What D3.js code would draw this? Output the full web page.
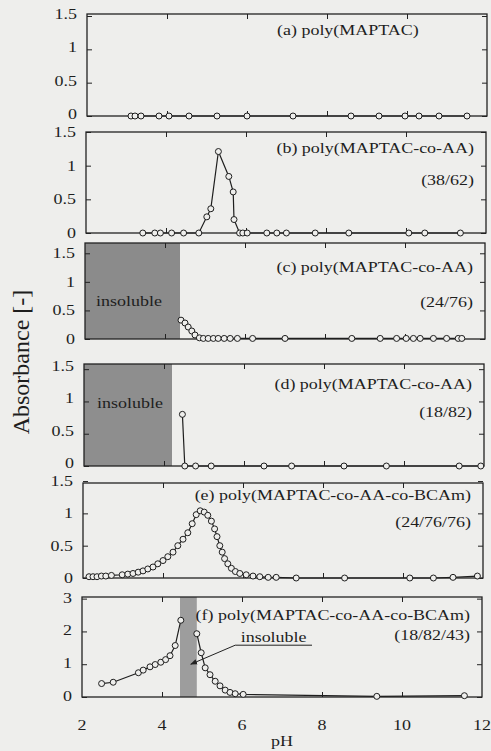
<!DOCTYPE html>
<html>
<head>
<meta charset="utf-8">
<style>
  body { margin: 0; background: #eeeeec; }
  svg { display: block; }
  text { font-family: "Liberation Serif", "Times New Roman", serif; fill: #1e1e1e; }
</style>
</head>
<body>
<svg width="491" height="751"></svg>
<script src="https://d3js.org/d3.v7.min.js"></script>
<script>

// ---- data ----
var phA  = [3.1, 3.2, 3.35, 3.8, 4.05, 4.55, 5.25, 6.0, 7.15, 8.6, 9.3, 9.95, 10.3, 10.8, 11.5];
var absA = [0, 0, 0, 0, 0, 0, 0, 0, 0, 0, 0, 0, 0, 0, 0];

var phB  = [3.42, 3.72, 3.86, 4.14, 4.44, 4.82, 5.02, 5.12, 5.31, 5.57, 5.68, 5.7, 5.84, 5.92, 6.03, 6.52, 6.77, 7.01, 7.73, 8.57, 10.07, 10.47, 11.36];
var absB = [0, 0, 0, 0, 0, 0, 0.24, 0.36, 1.21, 0.84, 0.61, 0.2, 0, 0, 0, 0, 0, 0, 0, 0, 0, 0, 0];

var phC  = [4.4, 4.5, 4.58, 4.67, 4.75, 4.86, 4.96, 5.08, 5.21, 5.33, 5.48, 5.63, 5.81, 6.19, 7.0, 8.67, 9.38, 9.79, 10.03, 10.21, 10.38, 10.71, 11.04, 11.33, 11.42];
var absC = [0.33, 0.28, 0.21, 0.14, 0.07, 0.02, 0.01, 0.01, 0.01, 0.01, 0.01, 0.01, 0.01, 0.01, 0.01, 0.01, 0.01, 0.01, 0.01, 0.01, 0.01, 0.01, 0.01, 0.01, 0.01];

var phD  = [4.46, 4.52, 4.79, 5.18, 6.5, 7.19, 8.5, 9.56, 11.38, 11.92];
var absD = [0.8, 0, 0, 0, 0, 0, 0, 0, 0, 0];

var phE  = [2.15, 2.25, 2.35, 2.46, 2.57, 2.71, 2.98, 3.12, 3.25, 3.38, 3.5, 3.62, 3.75, 3.87, 4.0, 4.12, 4.25, 4.37, 4.5, 4.62, 4.73, 4.83, 4.93, 5.03, 5.12, 5.21, 5.29, 5.35, 5.42, 5.48, 5.54, 5.62, 5.71, 5.81, 5.92, 6.08, 6.25, 6.42, 6.63, 6.83, 7.33, 8.54, 10.17, 10.76, 11.25, 11.86];
var absE = [0.02, 0.02, 0.02, 0.03, 0.03, 0.04, 0.05, 0.06, 0.07, 0.09, 0.11, 0.14, 0.17, 0.22, 0.27, 0.33, 0.4, 0.5, 0.6, 0.7, 0.84, 0.98, 1.04, 1.02, 0.97, 0.88, 0.76, 0.64, 0.5, 0.4, 0.3, 0.22, 0.15, 0.1, 0.07, 0.05, 0.03, 0.02, 0.01, 0.01, 0, 0, 0, 0, 0.01, 0.03];

// (f) is broken by the insoluble band
var phF1  = [2.49, 2.78, 3.41, 3.53, 3.7, 3.83, 3.97, 4.09, 4.2, 4.33, 4.47];
var absF1 = [0.41, 0.45, 0.74, 0.82, 0.92, 0.99, 1.06, 1.14, 1.26, 1.57, 2.34];
var phF2  = [4.87, 4.98, 5.08, 5.2, 5.33, 5.45, 5.58, 5.7, 5.83, 6.03, 9.37, 11.56];
var absF2 = [1.93, 1.35, 0.89, 0.68, 0.48, 0.34, 0.21, 0.14, 0.1, 0.08, 0.02, 0.04];

// insoluble pH ranges
var insolC = [2, 4.375];
var insolD = [2, 4.2];
var insolF = [4.45, 4.87];

var xTicks = [2, 4, 6, 8, 10, 12];
var yTicks = [0, 0.5, 1, 1.5];
var yTicksF = [0, 1, 2, 3];

var titles = [
  ["(a) poly(MAPTAC)"],
  ["(b) poly(MAPTAC-co-AA)", "(38/62)"],
  ["(c) poly(MAPTAC-co-AA)", "(24/76)"],
  ["(d) poly(MAPTAC-co-AA)", "(18/82)"],
  ["(e) poly(MAPTAC-co-AA-co-BCAm)", "(24/76/76)"],
  ["(f) poly(MAPTAC-co-AA-co-BCAm)", "(18/82/43)"]
];

// ---- layout (the scan is slightly sheared, so each panel has its own left edge) ----
var svg = d3.select("svg"),
    W = 400,
    SX = 1.16,      // the scanned glyphs are wider than they are tall
    FS = 15.5,
    bg = "#eeeeec";

var panels = [
  {top: 14,  bottom: 116, left: 87, ymax: 1.53, ticks: yTicks,  t1: 21, t2: 0,  tx: 190, anchor: "start", ldy: -2},
  {top: 132, bottom: 233, left: 86, ymax: 1.5,  ticks: yTicks,  t1: 21, t2: 53, ldy: 0},
  {top: 243, bottom: 339, left: 85, ymax: 1.68, ticks: yTicks,  t1: 29, t2: 64, ldy: 0},
  {top: 364, bottom: 466, left: 84, ymax: 1.58, ticks: yTicks,  t1: 25, t2: 53, ldy: -3},
  {top: 483, bottom: 578, left: 83, ymax: 1.47, ticks: yTicks,  t1: 17, t2: 44, ldy: 0},
  {top: 597, bottom: 697, left: 82, ymax: 3.05, ticks: yTicksF, t1: 23, t2: 43, ldy: -1}
];
var series = [
  [[phA, absA]], [[phB, absB]], [[phC, absC]], [[phD, absD]], [[phE, absE]],
  [[phF1, absF1], [phF2, absF2]]
];
var shades = [null, null, insolC, insolD, null, insolF];
var shadeColor = [null, null, "#8b8b8b", "#8e8e8e", null, "#9d9d9d"];

// text helper: stretch horizontally like the scan
function label(sel, x, y, s, anchor, size) {
  return sel.append("text")
      .attr("transform", "translate(" + x + "," + y + ") scale(" + SX + ",1)")
      .attr("text-anchor", anchor || "start")
      .attr("font-size", size || FS)
      .text(s);
}

// arrow head
svg.append("defs").append("marker")
    .attr("id", "arrow")
    .attr("viewBox", "0 0 10 10")
    .attr("refX", 9).attr("refY", 5)
    .attr("markerWidth", 7).attr("markerHeight", 7)
    .attr("orient", "auto")
  .append("path")
    .attr("d", "M0,1 L10,5 L0,9 z")
    .attr("fill", "#222");

panels.forEach(function(p, i) {
  var h = p.bottom - p.top;
  var g = svg.append("g").attr("transform", "translate(" + p.left + "," + p.top + ")");
  var x = d3.scaleLinear().domain([2, 12]).range([0, W]);
  var y = d3.scaleLinear().domain([0, p.ymax]).range([h, 0]);

  // insoluble region
  if (shades[i]) {
    g.append("rect")
        .attr("x", x(shades[i][0]))
        .attr("y", 0)
        .attr("width", x(shades[i][1]) - x(shades[i][0]))
        .attr("height", h)
        .attr("fill", shadeColor[i]);
  }

  // inward ticks on all four sides
  var inner = [4, 6, 8, 10];
  g.append("g").attr("transform", "translate(0," + h + ")")
      .call(d3.axisBottom(x).tickValues(inner).tickSize(-5).tickFormat(""));
  g.append("g")
      .call(d3.axisTop(x).tickValues(inner).tickSize(-5).tickFormat(""));
  g.append("g")
      .call(d3.axisLeft(y).tickValues(p.ticks).tickSize(-5).tickFormat(""));
  g.append("g").attr("transform", "translate(" + W + ",0)")
      .call(d3.axisRight(y).tickValues(p.ticks).tickSize(-5).tickFormat(""));
  g.selectAll(".domain").remove();
  g.selectAll(".tick line").attr("stroke", "#222").attr("stroke-width", 1);

  // frame
  g.append("rect")
      .attr("width", W).attr("height", h)
      .attr("fill", "none").attr("stroke", "#222").attr("stroke-width", 1.3);

  // y tick labels
  p.ticks.forEach(function(t) {
    label(g, -10, y(t) + 5 + p.ldy, String(t), "end");
  });

  // data
  var line = d3.line().x(function(d) { return x(d[0]); }).y(function(d) { return y(d[1]); });
  series[i].forEach(function(s) {
    var pts = d3.zip(s[0], s[1]);
    g.append("path")
        .datum(pts)
        .attr("fill", "none")
        .attr("stroke", "#1e1e1e")
        .attr("stroke-width", 1.2)
        .attr("d", line);
    g.selectAll(null)
        .data(pts)
      .enter().append("circle")
        .attr("cx", function(d) { return x(d[0]); })
        .attr("cy", function(d) { return y(d[1]); })
        .attr("r", 3)
        .attr("fill", bg)
        .attr("stroke", "#1e1e1e")
        .attr("stroke-width", 1);
  });

  // titles
  var tx = p.tx != null ? p.tx : W - 12;
  label(g, tx, p.t1, titles[i][0], p.anchor || "end");
  if (titles[i][1]) label(g, W - 12, p.t2, titles[i][1], "end");

  // annotations
  if (i === 2) label(g, x(3.1), y(0.66) + 5, "insoluble", "middle");
  if (i === 3) label(g, x(3.15), y(0.98) + 5, "insoluble", "middle");
  if (i === 5) {
    var ux0 = x(5.83), ux1 = x(7.75), uy = y(1.58);
    label(g, (ux0 + ux1) / 2, uy - 3, "insoluble", "middle");
    g.append("line").attr("x1", ux0).attr("x2", ux1).attr("y1", uy).attr("y2", uy)
        .attr("stroke", "#222").attr("stroke-width", 1);
    g.append("line").attr("x1", ux0).attr("y1", uy).attr("x2", x(4.72)).attr("y2", y(1.0))
        .attr("stroke", "#222").attr("stroke-width", 1).attr("marker-end", "url(#arrow)");
  }

  // x tick labels on the bottom panel only
  if (i === panels.length - 1) {
    xTicks.forEach(function(t) {
      label(g, x(t), h + 33, String(t), "middle");
    });
    label(g, x(7), h + 49, "pH", "middle");
  }
});

// y axis title
svg.append("text")
    .attr("transform", "translate(29,362) rotate(-90)")
    .attr("text-anchor", "middle")
    .attr("font-size", 24)
    .text("Absorbance [-]");

</script>
</body>
</html>
